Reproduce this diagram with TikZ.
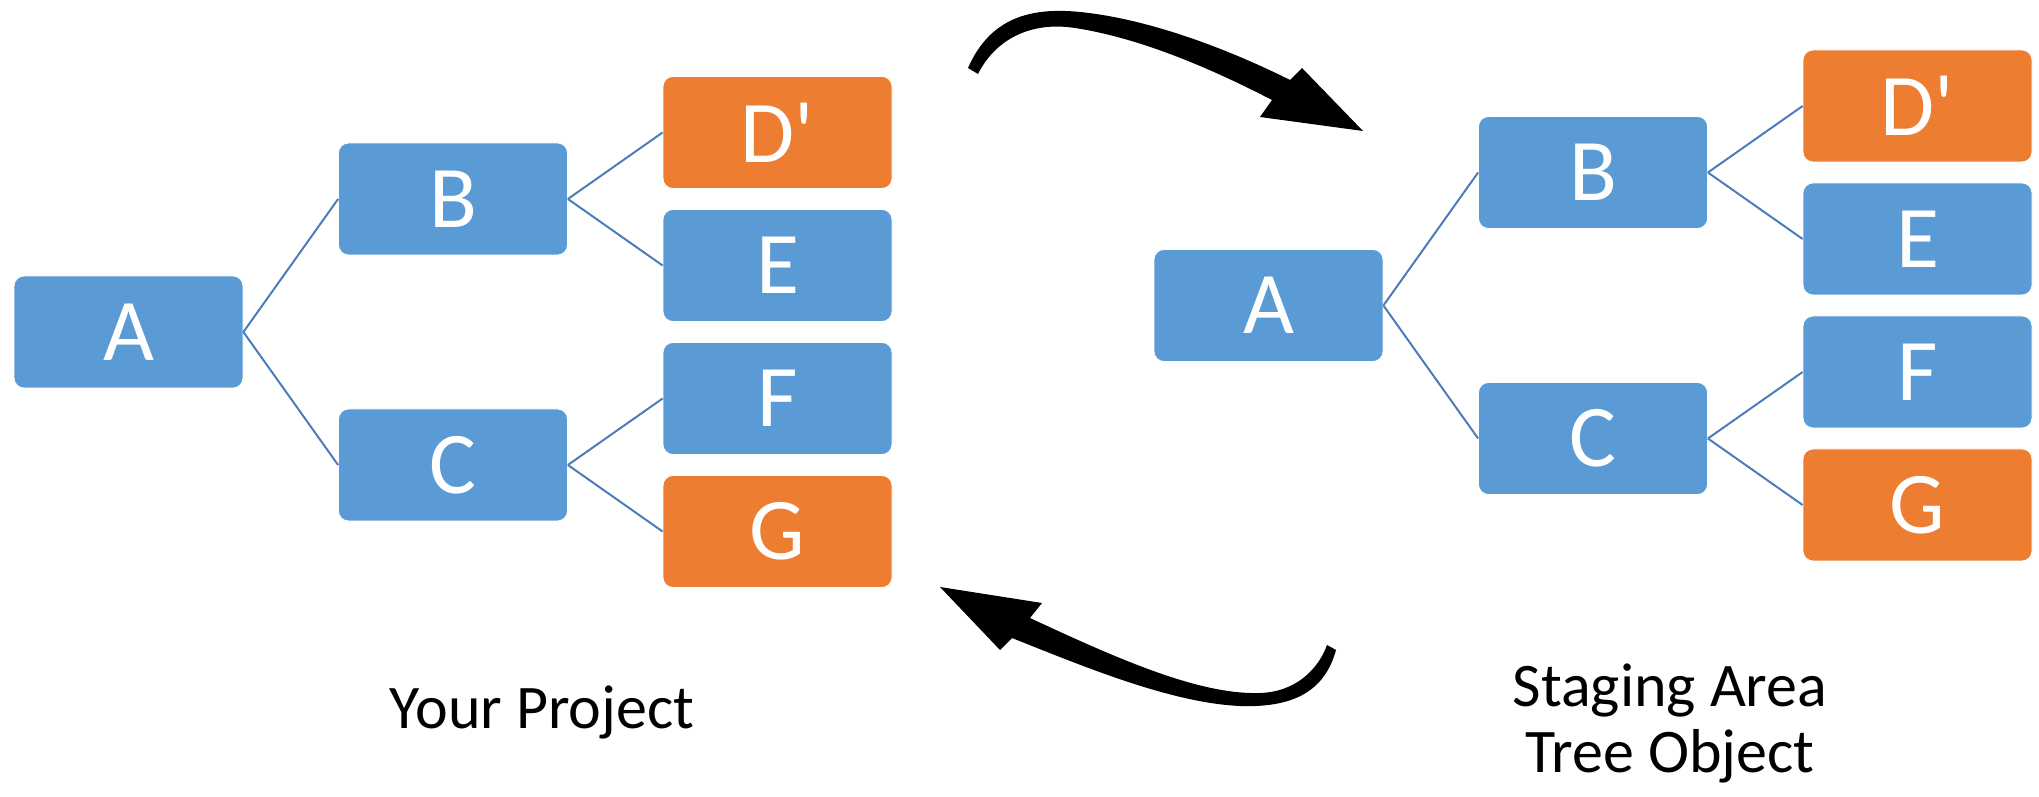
\documentclass[tikz,border=0pt]{standalone}
\usepackage{fontspec}
\setmainfont{Carlito}
\newfontfamily\boxfont{Carlito}
\definecolor{boxblue}{HTML}{5B9BD5}
\definecolor{boxorange}{HTML}{ED7D31}
\definecolor{linkblue}{HTML}{4A7EBB}
\begin{document}
\begin{tikzpicture}[x=0.5pt,y=0.5pt,
	box/.style={rectangle,rounded corners=5pt,fill=boxblue,draw=white,line width=0.4pt,
		minimum width=114.5pt,minimum height=56pt,inner sep=0pt,
		text=white,font=\boxfont\fontsize{44}{44}\selectfont},
	changed/.style={fill=boxorange},
	every child node/.style={box},
	grow'=right,parent anchor=east,child anchor=west,
	edge from parent/.style={draw=linkblue,line width=1pt},
	level/.style={level distance=162.25pt,sibling distance=133pt/#1},
	caption/.style={align=center,font=\fontsize{31}{33}\selectfont}]
\useasboundingbox (0,0) rectangle (2039,797);
% your project
\node[box] (lA) at (128.5,465) {A}
child {node (lB) {B}
	child {node[changed] (lD) {D'}}
	child {node (lE) {E}}
	}
child {node (lC) {C}
	child {node (lF) {F}}
	child {node[changed] (lG) {G}}
	};
% staging area
\node[box] (rA) at (1268.5,491.5) {A}
child {node (rB) {B}
	child {node[changed] (rD) {D'}}
	child {node (rE) {E}}
	}
child {node (rC) {C}
	child {node (rF) {F}}
	child {node[changed] (rG) {G}}
	};
\node[caption,anchor=base] (proj) at (542,68) {Your Project};
\node[caption,anchor=base] (stage) at (1670,24) {Tree Object};
\node[caption,anchor=base] (stage2) at (1670,90) {Staging Area};
% arrows
\fill (968,729) .. controls (990,779) and (1030,790) .. (1080,785)
	.. controls (1150,778) and (1230,747) .. (1290,717) -- (1302,729) -- (1363,666)
	-- (1260,680) -- (1272,697) .. controls (1210,729) and (1140,759) .. (1075,769)
	.. controls (1030,776) and (995,757) .. (978,723) -- cycle;
\fill (1030,179) .. controls (1120,137) and (1200,102) .. (1260,104)
	.. controls (1295,105) and (1318,127) .. (1327,152) -- (1336,147)
	.. controls (1325,107) and (1295,89) .. (1240,91)
	.. controls (1170,94) and (1080,132) .. (1012,159) -- (1000,147) -- (940,210)
	-- (1042,194) -- cycle;
\end{tikzpicture}
\end{document}
